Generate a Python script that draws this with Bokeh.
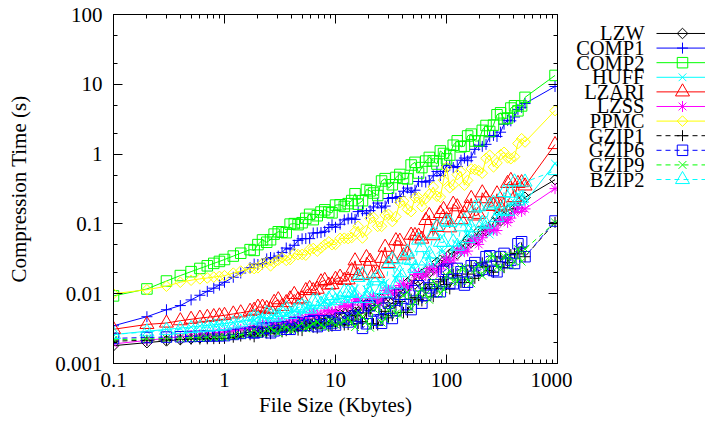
from bokeh.plotting import figure
from bokeh.layouts import row
from bokeh.models import LogAxis, FixedTicker, CustomJSTickFormatter, Range1d
from bokeh.core.properties import value
from bokeh.embed import file_html
from bokeh.resources import INLINE

# ---------------- data ----------------
FILE_SIZE_KB = [0.1, 0.2, 0.3, 0.4, 0.5, 0.6, 0.7, 0.8, 0.9, 1.0, 1.2, 1.4, 1.7,
                1.85, 2.0, 2.2, 2.4, 2.6, 2.8, 3.05, 3.3, 3.6, 3.9, 4.25, 4.6, 5.0, 5.4,
                5.85, 6.3, 6.85, 7.4, 8.0, 8.7, 9.3, 10,
                11, 12, 13, 14, 15, 16, 17.5, 19, 20.5, 22, 24, 26, 28, 30, 32.5, 35,
                38, 41, 44.5, 48, 52, 56, 60, 65, 70, 76, 82, 88, 94, 100,
                107, 115, 125, 135, 145, 155, 167, 180, 195, 210, 227, 245, 265, 285,
                307, 330, 355, 380, 410, 440, 475, 510,
                950]

LZW = [0.0018, 0.00199, 0.00211, 0.0022, 0.00227, 0.00233, 0.00239, 0.00243, 0.00247, 0.00251, 0.00261, 0.0027, 0.00282,
       0.00298, 0.00296, 0.00286, 0.00298, 0.00316, 0.00324, 0.00312, 0.00324, 0.00348, 0.00352, 0.0034, 0.0034, 0.00373, 0.00378, 0.0037, 0.00385, 0.00421, 0.00443, 0.00435, 0.00459, 0.005, 0.00519,
       0.00505, 0.00524, 0.00566, 0.00581, 0.00543, 0.00547, 0.00692, 0.0072, 0.0067, 0.00678, 0.00827, 0.00849, 0.00727, 0.00774, 0.00978, 0.0104, 0.0105, 0.0113, 0.0143, 0.0159, 0.0138, 0.0151, 0.0189, 0.0207, 0.0201, 0.0229, 0.0281, 0.0301, 0.0291, 0.0282,
       0.0368, 0.0401, 0.0371, 0.0438, 0.0515, 0.0593, 0.054, 0.059, 0.0787, 0.0787, 0.0797, 0.0845, 0.104, 0.125, 0.111, 0.125, 0.156, 0.164, 0.166, 0.169, 0.217, 0.24,
       0.43]
COMP1 = [0.00347, 0.00468, 0.00589, 0.00676, 0.00815, 0.0095, 0.0108, 0.012, 0.0133, 0.0146, 0.0172, 0.0198, 0.0236,
         0.0266, 0.0262, 0.0268, 0.0315, 0.033, 0.0325, 0.0346, 0.039, 0.0451, 0.0436, 0.0494, 0.058, 0.0612, 0.0617, 0.0615, 0.074, 0.0746, 0.0752, 0.0784, 0.0889, 0.0973, 0.0895,
         0.0989, 0.114, 0.118, 0.121, 0.116, 0.150, 0.154, 0.140, 0.155, 0.175, 0.199, 0.170, 0.18, 0.231, 0.239, 0.233, 0.247, 0.294, 0.326, 0.284, 0.304, 0.405, 0.403, 0.397, 0.415, 0.488, 0.564, 0.494, 0.567, 0.681,
         0.692, 0.641, 0.664, 0.817, 0.878, 0.804, 0.907, 1.17, 1.34, 1.29, 1.38, 1.77, 1.85, 1.79, 2.06, 2.68, 3.05, 3.00, 3.40, 4.37, 4.68, 5.3,
         9.3]
COMP2 = [0.0093, 0.0117, 0.0152, 0.0182, 0.0207, 0.023, 0.0251, 0.0272, 0.029, 0.0309, 0.0346, 0.038, 0.0428,
         0.0417, 0.0505, 0.0589, 0.0546, 0.0593, 0.0714, 0.0772, 0.076, 0.0748, 0.0993, 0.101, 0.0975, 0.104, 0.12, 0.137, 0.115, 0.131, 0.148, 0.159, 0.148, 0.144, 0.186,
         0.188, 0.178, 0.195, 0.216, 0.27, 0.192, 0.215, 0.312, 0.298, 0.277, 0.255, 0.412, 0.445, 0.324, 0.364, 0.463, 0.511, 0.449, 0.442, 0.698, 0.762, 0.536, 0.641, 0.794, 0.896, 0.80, 0.72, 1.11, 1.02, 0.853,
         0.969, 1.34, 1.55, 1.27, 1.30, 1.82, 1.93, 1.54, 1.54, 2.19, 2.57, 2.11, 2.60, 3.66, 3.90, 3.20, 3.29, 4.57, 4.93, 4.17, 4.90, 6.5,
         13.4]
HUFF = [0.0026, 0.0029, 0.00308, 0.00322, 0.00333, 0.00343, 0.00352, 0.00359, 0.00366, 0.00372, 0.00389, 0.00404, 0.00424,
        0.0042, 0.00462, 0.00473, 0.00438, 0.0044, 0.0049, 0.00551, 0.00466, 0.00494, 0.00557, 0.00571, 0.00535, 0.00502, 0.00634, 0.00621, 0.00603, 0.00605, 0.00702, 0.00789, 0.00676, 0.00724, 0.0084,
        0.00853, 0.00847, 0.00804, 0.00995, 0.0119, 0.0079, 0.00927, 0.0115, 0.0149, 0.00849, 0.00825, 0.0145, 0.0144, 0.0117, 0.0118, 0.0166, 0.0204, 0.0126, 0.0125, 0.0243, 0.0224, 0.0194, 0.0187, 0.0259, 0.0358, 0.0225, 0.0288, 0.0419, 0.0413, 0.0301,
        0.028, 0.0448, 0.0515, 0.0381, 0.0413, 0.0687, 0.0867, 0.063, 0.0608, 0.098, 0.0914, 0.0703, 0.0767, 0.127, 0.154, 0.118, 0.129, 0.20, 0.203, 0.158, 0.269, 0.206,
        0.73]
LZARI = [0.00309, 0.00363, 0.0038, 0.0041, 0.0043, 0.00447, 0.00459, 0.0047, 0.00481, 0.0049, 0.00513, 0.00533, 0.0056,
         0.0058, 0.00643, 0.00643, 0.00617, 0.00593, 0.00752, 0.0082, 0.00658, 0.00746, 0.00843, 0.00976, 0.00818, 0.00848, 0.0111, 0.0119, 0.0111, 0.0116, 0.0148, 0.0155, 0.0133, 0.0135, 0.0161,
         0.0173, 0.0155, 0.0158, 0.0215, 0.0296, 0.0183, 0.0182, 0.033, 0.0292, 0.0193, 0.0196, 0.0321, 0.0463, 0.0272, 0.0318, 0.0575, 0.0565, 0.035, 0.0371, 0.069, 0.0683, 0.067, 0.0606, 0.112, 0.132, 0.0678, 0.0892, 0.141, 0.161, 0.115,
         0.088, 0.192, 0.176, 0.115, 0.141, 0.171, 0.232, 0.13, 0.137, 0.279, 0.23, 0.178, 0.182, 0.27, 0.174, 0.181, 0.38, 0.42, 0.238, 0.38, 0.39, 0.35,
         1.37]
LZSS = [0.00191, 0.00214, 0.0023, 0.00241, 0.00251, 0.00258, 0.00265, 0.00272, 0.00277, 0.00282, 0.00296, 0.00308, 0.00324,
        0.00314, 0.00332, 0.00369, 0.00368, 0.00353, 0.00355, 0.00394, 0.00393, 0.00369, 0.00383, 0.00422, 0.00444, 0.00419, 0.00445, 0.0050, 0.00514, 0.00494, 0.00502, 0.00566, 0.00571, 0.00543, 0.00556,
        0.00643, 0.00675, 0.00657, 0.0069, 0.00815, 0.00847, 0.00685, 0.00724, 0.00852, 0.00902, 0.00754, 0.00813, 0.0111, 0.0112, 0.00992, 0.011, 0.0131, 0.0141, 0.0124, 0.0131, 0.0189, 0.0195, 0.0174, 0.0185, 0.023, 0.0229, 0.0205, 0.0226, 0.0271, 0.0324,
        0.0277, 0.0304, 0.0418, 0.0412, 0.0401, 0.0408, 0.0563, 0.0603, 0.0508, 0.0634, 0.0771, 0.0867, 0.0819, 0.0804, 0.114, 0.116, 0.105, 0.121, 0.145, 0.17, 0.151, 0.164,
        0.32]
PPMC = [0.0100, 0.0114, 0.0128, 0.0146, 0.0156, 0.0163, 0.0168, 0.0173, 0.0177, 0.0181, 0.0197, 0.0211, 0.023,
        0.0229, 0.0235, 0.0271, 0.0281, 0.0251, 0.0279, 0.0302, 0.0328, 0.03, 0.0309, 0.0376, 0.0363, 0.0365, 0.0357, 0.0433, 0.0444, 0.0408, 0.0451, 0.0505, 0.0551, 0.0505, 0.0508,
        0.062, 0.0624, 0.0616, 0.0637, 0.0777, 0.0925, 0.0628, 0.080, 0.12, 0.124, 0.0921, 0.0923, 0.134, 0.137, 0.108, 0.127, 0.203, 0.212, 0.162, 0.150, 0.237, 0.237, 0.177, 0.230, 0.266, 0.338, 0.249, 0.242, 0.422, 0.65,
        0.33, 0.363, 0.508, 0.561, 0.359, 0.42, 0.614, 0.601, 0.578, 0.533, 0.871, 0.962, 0.656, 0.748, 0.981, 1.06, 0.886, 0.859, 0.918, 1.42, 1.66, 1.49,
        4.2]
GZIP1 = [0.00209, 0.00215, 0.00218, 0.00221, 0.00223, 0.00224, 0.00226, 0.00227, 0.00228, 0.00229, 0.00238, 0.00247, 0.00258,
         0.00241, 0.00278, 0.00282, 0.00274, 0.00267, 0.00303, 0.00321, 0.00284, 0.00295, 0.00313, 0.00333, 0.00301, 0.00296, 0.00341, 0.0034, 0.00331, 0.00321, 0.00372, 0.00382, 0.00341, 0.00343, 0.00366,
         0.00382, 0.00356, 0.00361, 0.00417, 0.0049, 0.00375, 0.00398, 0.0053, 0.00579, 0.00372, 0.00357, 0.00502, 0.00559, 0.00451, 0.00484, 0.00728, 0.00773, 0.0054, 0.0054, 0.00836, 0.00885, 0.00832, 0.00788, 0.0119, 0.0136, 0.00904, 0.0118, 0.0148, 0.0161, 0.0135,
         0.0117, 0.0191, 0.0181, 0.0144, 0.0145, 0.0191, 0.0251, 0.0166, 0.0182, 0.0277, 0.0243, 0.0215, 0.0203, 0.0291, 0.0337, 0.0236, 0.0279, 0.0364, 0.038, 0.0372, 0.0453, 0.0339,
         0.105]
GZIP6 = [0.00229, 0.00236, 0.00239, 0.00242, 0.00244, 0.00246, 0.00248, 0.00249, 0.0025, 0.00251, 0.00261, 0.0027, 0.00282,
         0.00274, 0.00282, 0.0032, 0.00323, 0.00276, 0.00294, 0.00332, 0.00334, 0.0031, 0.00309, 0.00387, 0.00381, 0.00348, 0.00353, 0.00397, 0.00411, 0.00338, 0.00359, 0.00408, 0.00404, 0.00381, 0.00355,
         0.00447, 0.00448, 0.00394, 0.00431, 0.00477, 0.00637, 0.00319, 0.00371, 0.0067, 0.00564, 0.00418, 0.00377, 0.00619, 0.00731, 0.00442, 0.00571, 0.00982, 0.00865, 0.00698, 0.00592, 0.0111, 0.013, 0.00732, 0.00948, 0.0121, 0.0134, 0.0107, 0.0107, 0.0209, 0.0224,
         0.0142, 0.0139, 0.023, 0.0206, 0.0133, 0.0146, 0.0251, 0.0279, 0.0213, 0.0225, 0.0339, 0.0349, 0.0215, 0.0206, 0.034, 0.0378, 0.0277, 0.0303, 0.0271, 0.0519, 0.0555, 0.0339,
         0.11]
GZIP9 = [0.00219, 0.00225, 0.00229, 0.00231, 0.00233, 0.00235, 0.00237, 0.00238, 0.00239, 0.0024, 0.00249, 0.00258, 0.0027,
         0.00304, 0.00267, 0.00272, 0.00308, 0.00317, 0.00295, 0.00273, 0.00336, 0.00329, 0.00303, 0.00308, 0.00342, 0.00382, 0.00318, 0.00342, 0.00371, 0.00389, 0.00353, 0.00331, 0.00408, 0.00399, 0.0036,
         0.00376, 0.00403, 0.00447, 0.00379, 0.00332, 0.00531, 0.00472, 0.004, 0.00325, 0.00614, 0.00655, 0.00386, 0.00429, 0.00579, 0.0065, 0.00521, 0.00492, 0.00938, 0.0105, 0.0061, 0.00769, 0.0103, 0.012, 0.0098, 0.00815, 0.0151, 0.0131, 0.01, 0.0116, 0.0181,
         0.0214, 0.0149, 0.0148, 0.0232, 0.0234, 0.0155, 0.0141, 0.0222, 0.0261, 0.0181, 0.0225, 0.0341, 0.035, 0.0239, 0.0228, 0.0343, 0.0352, 0.0254, 0.0292, 0.0435, 0.0288, 0.0436,
         0.105]
BZIP2 = [0.0026, 0.00284, 0.00299, 0.00309, 0.00318, 0.00325, 0.00332, 0.00337, 0.00342, 0.00347, 0.0037, 0.00391, 0.00418,
         0.00461, 0.00433, 0.00407, 0.00518, 0.00502, 0.0046, 0.00479, 0.00541, 0.00611, 0.00506, 0.00564, 0.0063, 0.0067, 0.00621, 0.00603, 0.00782, 0.0077, 0.00708, 0.00766, 0.00838, 0.00942, 0.00794,
         0.00861, 0.0106, 0.0104, 0.0101, 0.0085, 0.0171, 0.0187, 0.00857, 0.00998, 0.0153, 0.017, 0.0115, 0.0103, 0.0262, 0.0307, 0.0137, 0.02, 0.0313, 0.0396, 0.0299, 0.0231, 0.0586, 0.0458, 0.0295, 0.0372, 0.0718, 0.092, 0.0545, 0.0543, 0.107,
         0.105, 0.0552, 0.0479, 0.0908, 0.111, 0.0617, 0.0881, 0.169, 0.176, 0.102, 0.099, 0.186, 0.198, 0.123, 0.155, 0.282, 0.151, 0.275, 0.40, 0.213, 0.233, 0.398,
         0.58]

SERIES_NAMES = ["LZW", "COMP1", "COMP2", "HUFF", "LZARI", "LZSS", "PPMC",
                "GZIP1", "GZIP6", "GZIP9", "BZIP2"]
SERIES_VALUES = [LZW, COMP1, COMP2, HUFF, LZARI, LZSS, PPMC, GZIP1, GZIP6, GZIP9, BZIP2]

X_TICKS = [0.1, 1, 10, 100, 1000]
X_TICK_LABELS = ["0.1", "1", "10", "100", "1000"]
X_MINOR = [0.2, 0.3, 0.4, 0.5, 0.6, 0.7, 0.8, 0.9,
           2, 3, 4, 5, 6, 7, 8, 9,
           20, 30, 40, 50, 60, 70, 80, 90,
           200, 300, 400, 500, 600, 700, 800, 900]
Y_TICKS = [0.001, 0.01, 0.1, 1, 10, 100]
Y_TICK_LABELS = ["0.001", "0.01", "0.1", "1", "10", "100"]
Y_MINOR = [0.002, 0.005, 0.02, 0.05, 0.2, 0.5, 2, 5, 20, 50]

# ---------------- styles ----------------
DIAMOND = 0.7853981634
STYLES = [
    dict(color="#000000", marker="square", size=7.5, angle=DIAMOND, dash="solid"),
    dict(color="#0000ff", marker="cross", size=11, angle=0.0, dash="solid"),
    dict(color="#00ff00", marker="square", size=10.5, angle=0.0, dash="solid"),
    dict(color="#00ffff", marker="x", size=11, angle=0.0, dash="solid"),
    dict(color="#ff0000", marker="triangle", size=14, angle=0.0, dash="solid"),
    dict(color="#ff00ff", marker="asterisk", size=11, angle=0.0, dash="solid"),
    dict(color="#ffff00", marker="square", size=7.5, angle=DIAMOND, dash="solid"),
    dict(color="#000000", marker="cross", size=11, angle=0.0, dash="5 4"),
    dict(color="#0000ff", marker="square", size=10.5, angle=0.0, dash="5 4"),
    dict(color="#00ff00", marker="x", size=11, angle=0.0, dash="5 4"),
    dict(color="#00ffff", marker="triangle", size=14, angle=0.0, dash="5 4"),
]

FONT = "Liberation Serif"
FS = "21px"
MAIN_W = 572

p = figure(width=MAIN_W, height=423, x_axis_type="log", y_axis_type="log",
           x_range=Range1d(0.1, 1000), y_range=Range1d(0.001, 100),
           output_backend="svg", toolbar_location=None,
           min_border_left=113, min_border_right=MAIN_W - 557, min_border_top=14,
           min_border_bottom=60)
p.grid.visible = False
p.outline_line_color = "black"
p.outline_line_width = 1
p.background_fill_color = "white"
p.border_fill_color = "white"

FMT_CODE = """
const i = tv.findIndex((t) => Math.abs(t - tick) <= 1e-9 * Math.abs(t));
return i >= 0 ? tl[i] : "";
"""
xticker = FixedTicker(ticks=X_TICKS, minor_ticks=X_MINOR)
yticker = FixedTicker(ticks=Y_TICKS, minor_ticks=Y_MINOR)
xfmt = CustomJSTickFormatter(args=dict(tv=X_TICKS, tl=X_TICK_LABELS), code=FMT_CODE)
yfmt = CustomJSTickFormatter(args=dict(tv=Y_TICKS, tl=Y_TICK_LABELS), code=FMT_CODE)
blank = CustomJSTickFormatter(code="return '';")


def style_axis(ax, show):
    ax.major_tick_in = 9
    ax.major_tick_out = 0
    ax.minor_tick_in = 4
    ax.minor_tick_out = 0
    ax.axis_line_color = "black"
    ax.major_tick_line_color = "black"
    ax.minor_tick_line_color = "black"
    ax.major_label_text_font = FONT
    ax.major_label_text_color = "black"
    ax.axis_label_text_font = FONT
    ax.axis_label_text_font_size = FS
    ax.axis_label_text_font_style = "normal"
    ax.axis_label_text_color = "black"
    if show:
        ax.major_label_text_font_size = FS
    else:
        ax.major_label_text_font_size = "0px"
        ax.major_label_standoff = 0


xa = p.xaxis[0]
xa.ticker = xticker
xa.formatter = xfmt
xa.axis_label = "File Size (Kbytes)"
style_axis(xa, True)
xa.major_label_standoff = 9
xa.axis_label_standoff = 3

ya = p.yaxis[0]
ya.ticker = yticker
ya.formatter = yfmt
ya.axis_label = "Compression Time (s)"
style_axis(ya, True)
ya.major_label_standoff = 11
ya.axis_label_standoff = 21

top = LogAxis(ticker=xticker, formatter=blank)
style_axis(top, False)
p.add_layout(top, "above")
right = LogAxis(ticker=yticker, formatter=blank)
style_axis(right, False)
p.add_layout(right, "right")

for vals, st in zip(SERIES_VALUES, STYLES):
    p.line(FILE_SIZE_KB, vals, line_color=st["color"], line_width=1, line_dash=st["dash"])
    p.scatter(FILE_SIZE_KB, vals, marker=st["marker"], size=st["size"], angle=st["angle"],
              line_color=st["color"], fill_color=None, line_width=1)

# ---------------- key (gnuplot style: text left, sample right) ----------------
KEY_W = 705 - MAIN_W
lg = figure(width=KEY_W, height=423, x_range=Range1d(MAIN_W, 705), y_range=Range1d(423, 0),
            output_backend="svg", toolbar_location=None,
            x_axis_location=None, y_axis_location=None,
            min_border_left=0, min_border_right=0, min_border_top=0, min_border_bottom=0)
lg.grid.visible = False
lg.outline_line_color = None
lg.background_fill_color = "white"
lg.border_fill_color = "white"

n = len(SERIES_NAMES)
row_y = [23 + 17.7 * i for i in range(n)]
lg.text(x=[644] * n, y=row_y, text=SERIES_NAMES,
        text_align="right", text_baseline="middle",
        text_font=value(FONT), text_font_size="20.5px", text_color="black")
for yy, st in zip(row_y, STYLES):
    lg.segment(x0=[656], y0=[yy], x1=[705], y1=[yy], line_color=st["color"],
               line_width=1, line_dash=st["dash"])
    lg.scatter(x=[682], y=[yy], marker=st["marker"], size=st["size"], angle=st["angle"],
               line_color=st["color"], fill_color=None, line_width=1)

layout = row(p, lg)
open("out.html", "w").write(file_html(layout, INLINE))
